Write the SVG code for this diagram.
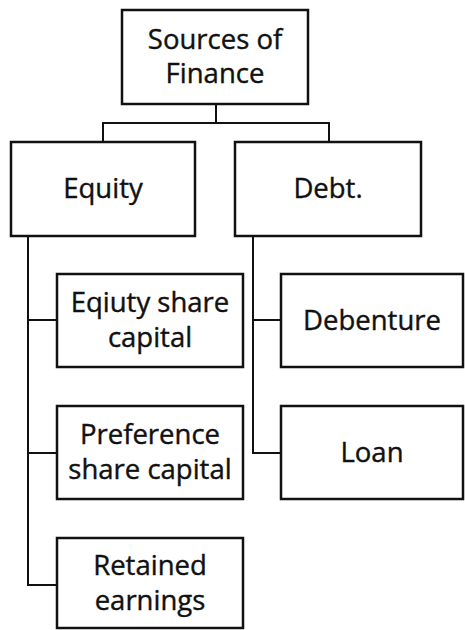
<svg xmlns="http://www.w3.org/2000/svg" width="465" height="630" viewBox="0 0 465 630">
<style>
.box{fill:#fff;stroke:#111;stroke-width:2.5}
.con{fill:none;stroke:#111;stroke-width:2}
text{font-family:"Open Sans","Noto Sans",sans-serif;font-size:27.5px;fill:#111;stroke:#111;stroke-width:0.4;text-anchor:middle}
</style>
<rect width="465" height="630" fill="#fff"/>
<g id="connectors">
<path class="con" d="M216,104V123M103,142V123H329V142"/>
<path class="con" d="M28,236V585H57M28,320H57M28,453H57"/>
<path class="con" d="M253,236V453H281M253,320H281"/>
</g>
<g id="sources">
<rect class="box" x="122" y="10" width="186" height="94"/>
<text x="215" y="49">Sources of</text>
<text x="215" y="83">Finance</text>
</g>
<g id="equity">
<rect class="box" x="11" y="142" width="184" height="94"/>
<text x="103" y="198">Equity</text>
</g>
<g id="debt">
<rect class="box" x="235" y="142" width="186" height="94"/>
<text x="328" y="198">Debt.</text>
</g>
<g id="equity-share">
<rect class="box" x="57" y="274" width="186" height="93"/>
<text x="150" y="312">Eqiuty share</text>
<text x="150" y="347">capital</text>
</g>
<g id="preference">
<rect class="box" x="57" y="406" width="186" height="93"/>
<text x="150" y="444">Preference</text>
<text x="150" y="479">share capital</text>
</g>
<g id="retained">
<rect class="box" x="57" y="538" width="186" height="90"/>
<text x="150" y="575">Retained</text>
<text x="150" y="610">earnings</text>
</g>
<g id="debenture">
<rect class="box" x="281" y="274" width="182" height="93"/>
<text x="372" y="330">Debenture</text>
</g>
<g id="loan">
<rect class="box" x="281" y="406" width="182" height="93"/>
<text x="372" y="462">Loan</text>
</g>
</svg>
